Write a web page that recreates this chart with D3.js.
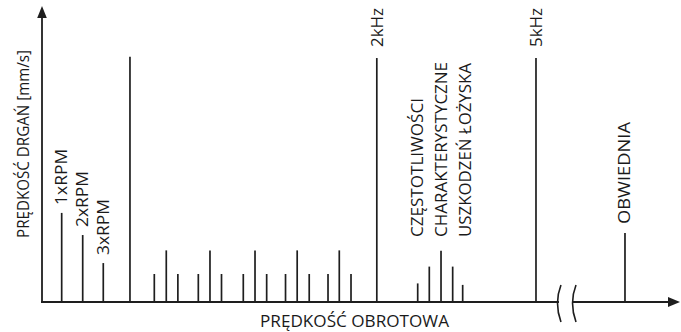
<!DOCTYPE html>
<html>
<head>
<meta charset="utf-8">
<script src="https://cdn.jsdelivr.net/npm/d3@7"></script>
<style>
  html, body { margin: 0; padding: 0; background: #fff; }
  svg { display: block; }
  text { font-family: "Open Sans", "Noto Sans", sans-serif; fill: #1a1a1a; }
</style>
</head>
<body>
<svg id="chart" width="681" height="332"></svg>
<script>
// ---- data (x in arbitrary frequency units 0..100, amplitude 0..100) ----
const rpmX      = [3.09, 6.39, 9.62];
const rpmAmp    = [30.2, 22.7, 13.2];
const rpmLabels = ["1xRPM", "2xRPM", "3xRPM"];

const bigX   = [13.81];
const bigAmp = [83.1];

const sideX   = [17.63, 19.51, 21.33, 24.54, 26.37, 28.18, 31.60, 33.44, 35.27, 38.23, 40.06, 41.95, 44.90, 46.67, 48.51];
const sideAmp = [9.5, 17.5, 9.5, 9.5, 17.5, 9.5, 9.5, 17.5, 9.5, 9.5, 17.5, 9.5, 9.5, 17.5, 9.5];

const markerX      = [52.56, 77.55];
const markerAmp    = [82.7, 82.7];
const markerLabels = ["2kHz", "5kHz"];

const bearingX     = [58.98, 60.80, 62.64, 64.47, 66.04];
const bearingAmp   = [6.3, 12.0, 17.4, 12.0, 5.8];
const bearingLabel = ["CZĘSTOTLIWOŚCI", "CHARAKTERYSTYCZNE", "USZKODZEŃ ŁOŻYSKA"];

const envX     = [91.52];
const envAmp   = [23.4];
const envLabel = ["OBWIEDNIA"];

const breakX = [81.0, 83.36];

const yTitle = "PRĘDKOŚĆ DRGAŃ [mm/s]";
const xTitle = "PRĘDKOŚĆ OBROTOWA";

// ---- layout ----
const svg = d3.select("#chart");
const x0 = 42, x1 = 679, yBase = 302, yTop = 7;
const x = d3.scaleLinear().domain([0, 100]).range([x0, x1]);
const y = d3.scaleLinear().domain([0, 100]).range([yBase, yTop]);
const ink = "#1e1e1e";
const fs = 15.5;

// spectral lines
function lines(xs, amps, w) {
  svg.append("g").selectAll("line").data(xs).join("line")
    .attr("x1", d => x(d)).attr("x2", d => x(d))
    .attr("y1", y(0)).attr("y2", (d, i) => y(amps[i]))
    .attr("stroke", ink).attr("stroke-width", w);
}
lines(rpmX, rpmAmp, 1.7);
lines(bigX, bigAmp, 1.7);
lines(sideX, sideAmp, 1.7);
lines(markerX, markerAmp, 1.7);
lines(bearingX, bearingAmp, 1.7);
lines(envX, envAmp, 1.7);

// axes
const gap0 = x(breakX[0]) + 1, gap1 = x(breakX[1]) - 1;
svg.append("line").attr("x1", x0).attr("x2", x0).attr("y1", y(0) + 1).attr("y2", yTop + 8)
  .attr("stroke", ink).attr("stroke-width", 1.8);
svg.append("line").attr("x1", x0 - 1).attr("x2", gap0).attr("y1", y(0)).attr("y2", y(0))
  .attr("stroke", ink).attr("stroke-width", 1.8);
svg.append("line").attr("x1", gap1).attr("x2", x1 - 8).attr("y1", y(0)).attr("y2", y(0))
  .attr("stroke", ink).attr("stroke-width", 1.8);
// arrow heads
svg.append("path").attr("d", `M${x0},${yTop - 1} L${x0 + 4.8},${yTop + 11} L${x0 - 4.8},${yTop + 11} Z`).attr("fill", ink);
svg.append("path").attr("d", `M${x1 + 1},${y(0)} L${x1 - 11},${y(0) - 5} L${x1 - 11},${y(0) + 5} Z`).attr("fill", ink);
// break marks
svg.append("g").selectAll("path").data(breakX).join("path")
  .attr("d", d => { const bx = x(d); return `M${bx + 3},${y(0) - 17} Q${bx - 4},${y(0) + 1} ${bx + 3},${y(0) + 20}`; })
  .attr("fill", "none").attr("stroke", ink).attr("stroke-width", 1.6);

// rotated labels
function vtext(tx, ty, str, len) {
  const t = svg.append("text")
    .attr("transform", `translate(${tx},${ty}) rotate(-90)`)
    .attr("font-size", fs)
    .text(str);
  if (len) t.attr("textLength", len).attr("lengthAdjust", "spacingAndGlyphs");
  return t;
}
vtext(29, 238, yTitle, 188);
rpmLabels.forEach((s, i) => vtext(x(rpmX[i]) + 5.5, y(rpmAmp[i]) - 8, s, 56));
markerLabels.forEach((s, i) => vtext(x(markerX[i]) + 6, 47, s, 39));
bearingLabel.forEach((s, i) => vtext(423 + i * 24, 237, s, [139, 175, 174][i]));
vtext(x(envX[0]) + 5.5, 224, envLabel[0], 102);

svg.append("text").attr("x", 260).attr("y", 327).attr("font-size", fs)
  .attr("textLength", 189).attr("lengthAdjust", "spacingAndGlyphs").text(xTitle);
</script>
</body>
</html>
